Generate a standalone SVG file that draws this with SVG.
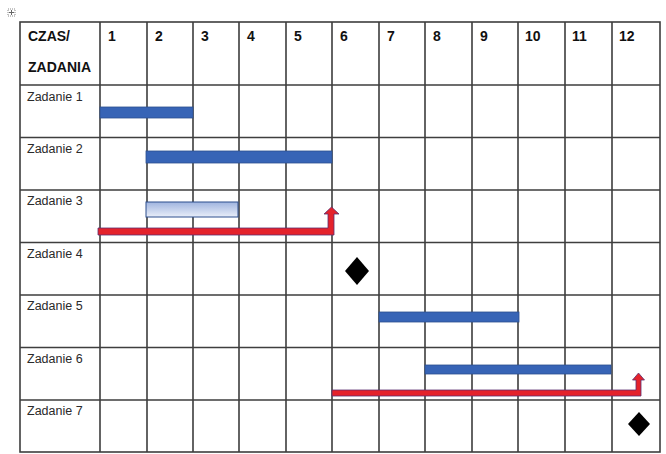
<svg xmlns="http://www.w3.org/2000/svg" width="666" height="454" viewBox="0 0 666 454">
<style>
  .grid { stroke:#3e3e3e; stroke-width:1.6; fill:none; }
  .hdr { font-family:"Liberation Sans", Arial, sans-serif; font-weight:bold; font-size:14px; fill:#111; }
  .lbl { font-family:"Liberation Sans", Arial, sans-serif; font-size:12.5px; fill:#2a2a2a; }
  .bar { fill:#3764b6; stroke:#2c4f8e; stroke-width:0.8; }
  .arr { fill:#e4222b; stroke:#5a2f6e; stroke-width:0.8; }
  .ms { fill:#000; }
</style>
<defs>
  <linearGradient id="lightbar" x1="0" y1="0" x2="0" y2="1">
    <stop offset="0" stop-color="#9fb4df"/>
    <stop offset="1" stop-color="#e9eef9"/>
  </linearGradient>
</defs>
<rect width="666" height="454" fill="#fff"/>
<g id="handle">
  <rect x="8" y="9" width="7" height="7" fill="none" stroke="#888" stroke-width="1" stroke-dasharray="1 1"/>
  <path d="M11.5 10v5M9 12.5h5" stroke="#666" stroke-width="1"/>
</g>
<g id="grid" class="grid">
  <rect x="20" y="22" width="640" height="430"/>
  <path d="M100 22V452M147 22V452M193 22V452M239 22V452M286 22V452M332 22V452M379 22V452M425 22V452M472 22V452M518 22V452M565 22V452M612 22V452"/>
  <path d="M20 85H660M20 137.5H660M20 190H660M20 242.5H660M20 295H660M20 347.5H660M20 400H660"/>
</g>
<g id="header">
  <text class="hdr" x="28" y="41">CZAS/</text>
  <text class="hdr" x="28" y="72">ZADANIA</text>
  <text class="hdr" x="108" y="41">1</text>
  <text class="hdr" x="155" y="41">2</text>
  <text class="hdr" x="201" y="41">3</text>
  <text class="hdr" x="247" y="41">4</text>
  <text class="hdr" x="294" y="41">5</text>
  <text class="hdr" x="340" y="41">6</text>
  <text class="hdr" x="387" y="41">7</text>
  <text class="hdr" x="433" y="41">8</text>
  <text class="hdr" x="480" y="41">9</text>
  <text class="hdr" x="525" y="41">10</text>
  <text class="hdr" x="572" y="41">11</text>
  <text class="hdr" x="619" y="41">12</text>
</g>
<g id="labels">
  <text class="lbl" x="27" y="101">Zadanie 1</text>
  <text class="lbl" x="27" y="153">Zadanie 2</text>
  <text class="lbl" x="27" y="205">Zadanie 3</text>
  <text class="lbl" x="27" y="258">Zadanie 4</text>
  <text class="lbl" x="27" y="310">Zadanie 5</text>
  <text class="lbl" x="27" y="363">Zadanie 6</text>
  <text class="lbl" x="27" y="415">Zadanie 7</text>
</g>
<g id="task1"><rect class="bar" x="100" y="107" width="93" height="11"/></g>
<g id="task2"><rect class="bar" x="146" y="151" width="186" height="12"/></g>
<g id="task3"><rect x="146" y="202" width="92" height="15" fill="url(#lightbar)" stroke="#2c4f8e" stroke-width="1"/></g>
<g id="task4"><polygon class="ms" points="357,257 369,271 357,285 345,271"/></g>
<g id="task5"><rect class="bar" x="379" y="312" width="140" height="10"/></g>
<g id="task6"><rect class="bar" x="425" y="365" width="186" height="9"/></g>
<g id="task7"><polygon class="ms" points="639,412 650,424 639,436 628,424"/></g>
<g id="connectors">
  <path class="arr" d="M98 228H328V214H324L331.5 207L339 214H334V235H98Z"/>
  <path class="arr" d="M332 390H636V380H632.5L638.5 373L644.5 380H641V396H332Z"/>
</g>
</svg>
